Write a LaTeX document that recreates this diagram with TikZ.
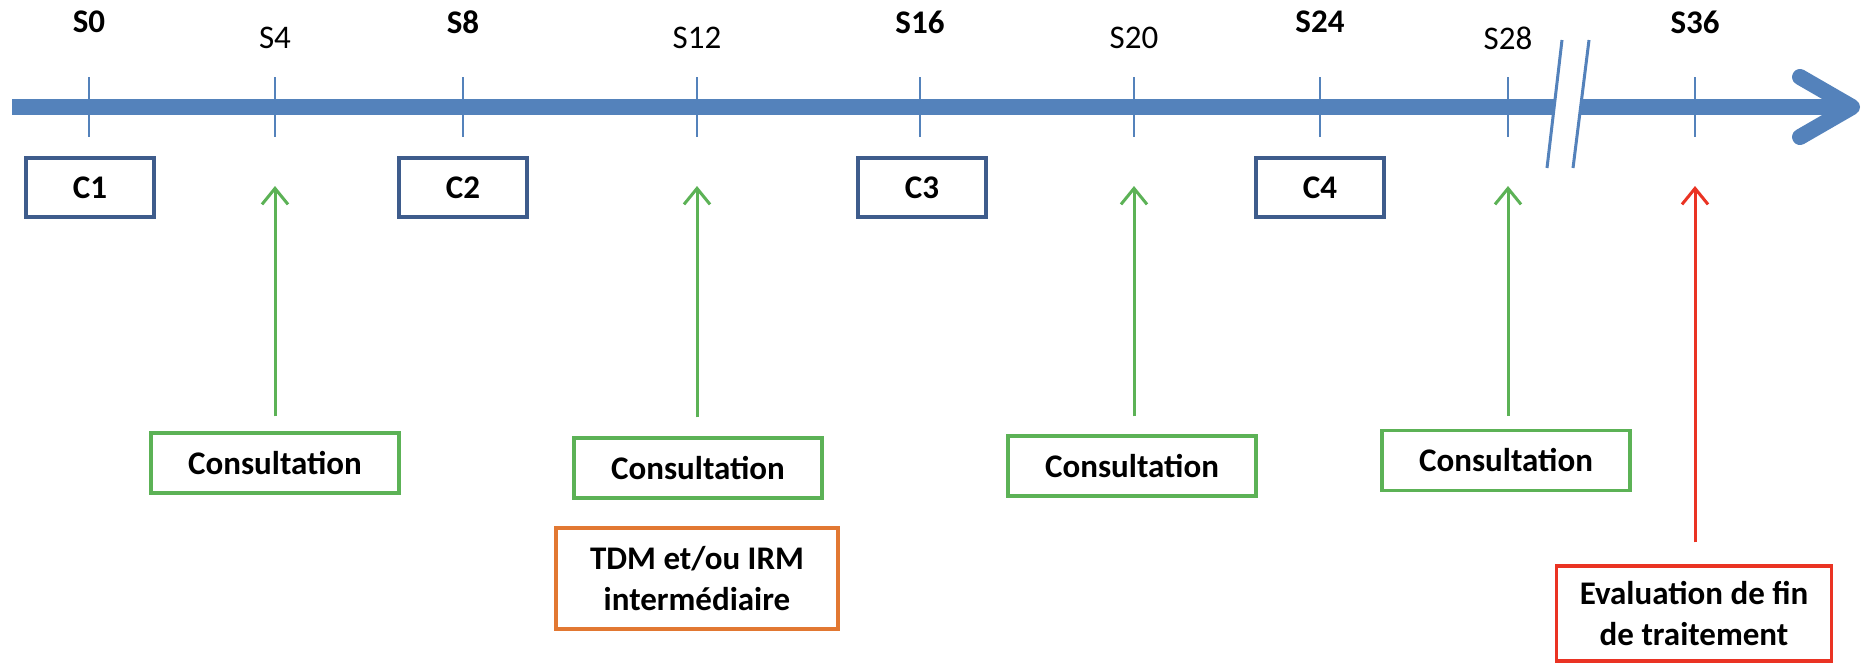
\documentclass[tikz,border=0pt]{standalone}
\usepackage{fontspec}
\setmainfont{Carlito}
\usetikzlibrary{arrows.meta}
\definecolor{axisblue}{RGB}{84,130,187}
\definecolor{boxblue}{RGB}{62,92,140}
\definecolor{cgreen}{RGB}{92,178,86}
\definecolor{corange}{RGB}{226,120,50}
\definecolor{cred}{RGB}{234,51,35}
\tikzset{
  txt/.style={font=\fontsize{33}{41}\selectfont, inner sep=0pt},
  boldlbl/.style={txt, font=\fontsize{33}{41}\selectfont\bfseries},
  reglbl/.style={txt},
  tick/.style={draw=axisblue, line width=1.8pt},
  cbox/.style={draw=boxblue, line width=3.5pt, minimum width=128pt, minimum height=59pt, font=\fontsize{33}{41}\selectfont\bfseries, inner sep=0pt},
  gbox/.style={draw=cgreen, line width=3.5pt, minimum width=248pt, minimum height=60pt, font=\fontsize{33}{41}\selectfont\bfseries, inner sep=0pt},
  obox/.style={draw=corange, line width=3.5pt, minimum width=282pt, minimum height=101pt, font=\fontsize{33}{41}\selectfont\bfseries, align=center, inner sep=0pt},
  rbox/.style={draw=cred, line width=3.5pt, minimum width=275pt, minimum height=95pt, font=\fontsize{33}{41}\selectfont\bfseries, align=center, inner sep=0pt},
  garrow/.style={draw=cgreen, line width=3pt, -{Straight Barb[length=16pt,width=26pt,line width=3pt]}},
  rarrow/.style={draw=cred, line width=3pt, -{Straight Barb[length=16pt,width=26pt,line width=3pt]}},
}
\begin{document}
\begin{tikzpicture}[x=1pt,y=-1pt]
\useasboundingbox[fill=white] (0,0) rectangle (1862,665);
% axis
\coordinate (a0) at (12,107);
\coordinate (a1) at (1850,107);
\draw[axisblue, line width=16pt] (a0) -- (a1);
\draw[axisblue, line width=16pt, line cap=round, line join=round] (1800,77) -- (1852,107) -- (1800,137);
% ticks
\foreach \n/\x in {0/89,4/275,8/463,12/697,16/920,20/1134,24/1320,28/1508,36/1695}{
  \coordinate (t\n) at (\x,107);
  \draw[tick] (\x,77) -- (\x,137);
}
% labels
\node[boldlbl] (l0) at (89,22) {S0};
\node[reglbl] (l4) at (275,38) {S4};
\node[boldlbl] (l8) at (463,22) {S8};
\node[reglbl] (l12) at (697,38) {S12};
\node[boldlbl] (l16) at (920,22) {S16};
\node[reglbl] (l20) at (1134,38) {S20};
\node[boldlbl] (l24) at (1320,22) {S24};
\node[reglbl] (l28) at (1508,38) {S28};
\node[boldlbl] (l36) at (1695,22) {S36};
% break
\fill[white] (1556,94) -- (1583,94) -- (1579,120) -- (1552,120) -- cycle;
\draw[axisblue, line width=3pt] (1562,40) -- (1547,168);
\draw[axisblue, line width=3pt] (1589,40) -- (1573,168);
% C boxes
\node[cbox] (c1) at (90,187.5) {C1};
\node[cbox] (c2) at (463,187.5) {C2};
\node[cbox] (c3) at (922,187.5) {C3};
\node[cbox] (c4) at (1320,187.5) {C4};
% consultation boxes
\node[gbox] (k1) at (275,463) {Consultation};
\node[gbox] (k2) at (698,468) {Consultation};
\node[gbox] (k3) at (1132,466) {Consultation};
\node[gbox] (k4) at (1506,460.5) {Consultation};
\node[obox] (tdm) at (697,578.5) {TDM et/ou IRM\\intermédiaire};
\node[rbox] (fin) at (1694,613.5) {Evaluation de fin\\de traitement};
% arrow tips
\coordinate (p1) at (275,186);
\coordinate (p2) at (697,186);
\coordinate (p3) at (1134,186);
\coordinate (p4) at (1508,186);
\coordinate (p5) at (1695,186);
\draw[garrow] ([yshift=15pt]k1.north -| p1) -- (p1);
\draw[garrow] ([yshift=19pt]k2.north -| p2) -- (p2);
\draw[garrow] ([yshift=18pt]k3.north -| p3) -- (p3);
\draw[garrow] ([yshift=13pt]k4.north -| p4) -- (p4);
\draw[rarrow] ([yshift=22pt]fin.north -| p5) -- (p5);
\end{tikzpicture}
\end{document}
